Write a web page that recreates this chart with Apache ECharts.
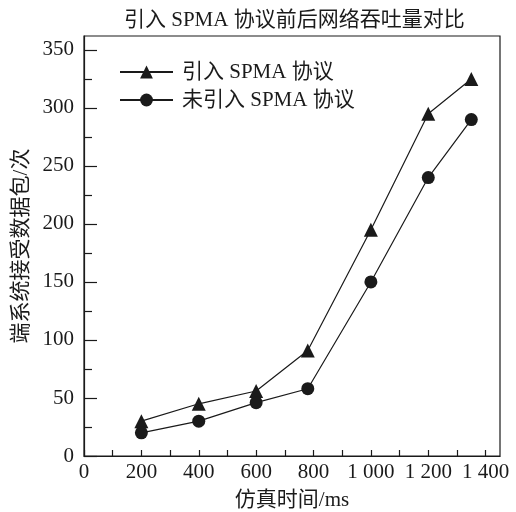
<!DOCTYPE html>
<html>
<head>
<meta charset="utf-8">
<script src="https://cdn.jsdelivr.net/npm/echarts@6/dist/echarts.min.js"></script>
<style>html,body{margin:0;padding:0;background:#fff}#c{width:516px;height:512px}</style>
</head>
<body>
<div id="c"></div>
<script>
const titleText = '引入 SPMA 协议前后网络吞吐量对比';
const xName = '仿真时间/ms';
const yName = '端系统接受数据包/次';
const seriesNames = ['引入 SPMA 协议', '未引入 SPMA 协议'];
const xValues = [200, 400, 600, 780, 1000, 1200, 1350];
const withSPMA = [30, 45, 56, 91, 195, 295, 325];
const withoutSPMA = [20, 30, 46, 58, 150, 240, 290];
const xLabelTicks = [0, 200, 400, 600, 800, 1000, 1200, 1400];
const xTickValues = [0, 100, 200, 300, 400, 500, 600, 700, 800, 900, 1000, 1100, 1200, 1300, 1400];
const yLabelTicks = [0, 50, 100, 150, 200, 250, 300, 350];
const yMinorTicks = [25, 75, 125, 175, 225, 275, 325];

const FONT = "'Liberation Serif', 'Noto Sans CJK SC', serif";
const INK = '#1a1a1a';
const chart = echarts.init(document.getElementById('c'), null, {renderer: 'canvas'});
const fmt = v => v >= 1000 ? Math.floor(v / 1000) + ' ' + String(v % 1000).padStart(3, '0') : String(v);

chart.setOption({
  animation: false,
  backgroundColor: '#fff',
  title: {
    text: titleText, left: 119, top: 5,
    textStyle: {fontFamily: FONT, fontSize: 21, fontWeight: 'normal', color: INK}
  },
  legend: {
    orient: 'vertical', left: 114, top: 56,
    itemWidth: 53, itemHeight: 16, itemGap: 6,
    textStyle: {fontFamily: FONT, fontSize: 21, color: INK, lineHeight: 22, padding: [0, 0, 0, 4]},
    data: seriesNames
  },
  grid: {left: 84, right: 16, top: 36, bottom: 56, outerBoundsMode: 'none', containLabel: false,
    show: true, borderColor: INK, borderWidth: 1.2, backgroundColor: 'transparent'},
  xAxis: [{
    type: 'value', min: 0, max: 1450,
    name: xName, nameLocation: 'middle', nameGap: 34,
    nameTextStyle: {fontFamily: FONT, fontSize: 21, color: INK},
    axisLine: {show: true, lineStyle: {color: INK, width: 1.2}},
    axisTick: {show: true, inside: true, length: 6, customValues: xTickValues, lineStyle: {color: INK, width: 1.2}},
    axisLabel: {show: true, margin: 6, customValues: xLabelTicks, formatter: fmt, fontFamily: FONT, fontSize: 21, color: INK},
    splitLine: {show: false}
  }],
  yAxis: [{
    type: 'value', min: 0, max: 362,
    name: yName, nameLocation: 'middle', nameGap: 48, nameRotate: 90,
    nameTextStyle: {fontFamily: FONT, fontSize: 21, color: INK},
    axisLine: {show: true, lineStyle: {color: INK, width: 1.2}},
    axisTick: {show: true, inside: true, length: 13, customValues: yLabelTicks, lineStyle: {color: INK, width: 1.2}},
    axisLabel: {show: true, margin: 10, customValues: yLabelTicks, fontFamily: FONT, fontSize: 21, color: INK},
    splitLine: {show: false}
  }, {
    type: 'value', min: 0, max: 362, position: 'left',
    axisLine: {show: false},
    axisTick: {show: true, inside: true, length: 8, customValues: yMinorTicks, lineStyle: {color: INK, width: 1.2}},
    axisLabel: {show: false},
    splitLine: {show: false}
  }],
  series: [{
    name: seriesNames[0], type: 'line', symbol: 'triangle', symbolSize: 14,
    data: xValues.map((x, i) => [x, withSPMA[i]]),
    lineStyle: {color: INK, width: 1.2}, itemStyle: {color: INK}
  }, {
    name: seriesNames[1], type: 'line', symbol: 'circle', symbolSize: 13,
    data: xValues.map((x, i) => [x, withoutSPMA[i]]),
    lineStyle: {color: INK, width: 1.2}, itemStyle: {color: INK}
  }]
});
</script>
</body>
</html>
